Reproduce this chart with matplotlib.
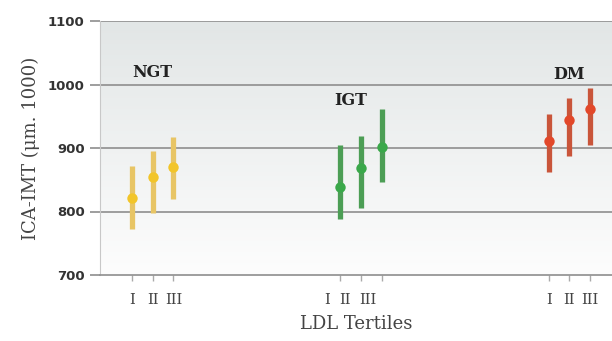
import numpy as np
import matplotlib.pyplot as plt
from matplotlib.colors import LinearSegmentedColormap

groups = ['NGT', 'IGT', 'DM']
tertiles = ['I', 'II', 'III']
means = [[821, 854, 870], [838, 869, 902], [911, 944, 961]]
lows = [[772, 798, 820], [788, 805, 847], [862, 888, 904]]
highs = [[872, 895, 918], [905, 919, 961], [953, 978, 994]]
group_label_y = [1019, 975, 1016]

bar_colors = ['#e8c565', '#4c9e55', '#c9553a']
dot_colors = ['#f2c52a', '#3aa84a', '#e2482a']

fig = plt.figure(figsize=(6.12, 3.41), dpi=100)
ax = fig.add_axes([100 / 612, 1 - 275 / 341, 1 - 100 / 612, 254 / 341])

xlim = (-0.52, 24.04)
ylim = (700, 1100)

# light gray gradient background, fading toward the bottom
grad = np.linspace(1, 0, 256).reshape(-1, 1)
cmap = LinearSegmentedColormap.from_list('bg', ['#fdfdfd', '#e2e6e6'])
ax.imshow(grad, extent=[xlim[0], xlim[1], ylim[0], ylim[1]], aspect='auto',
          cmap=cmap, origin='upper', zorder=0)

for yv in [800, 900, 1000, 1100]:
    ax.axhline(yv, color='#8e8e8e', lw=1.2, zorder=1)

tick_pos = []
label_pos = []
for g, name in enumerate(groups):
    xs = np.arange(3) + 1 + 10 * g
    tick_pos.extend(xs)
    # the IGT tertile labels sit slightly left of their points in the original
    if g == 1:
        label_pos.extend(xs + np.array([-0.63, -0.77, -0.67]))
    else:
        label_pos.extend(xs)
    m = np.array(means[g])
    lo = np.array(lows[g])
    hi = np.array(highs[g])
    ax.vlines(xs, lo, hi, color=bar_colors[g], lw=3.8, zorder=3)
    ax.plot(xs, m, 'o', color=dot_colors[g], ms=7.5, mec='none', zorder=4)
    ax.text(xs[1] + (0.0 if g != 1 else -0.5), group_label_y[g], name,
            ha='center', va='center', family='DejaVu Serif',
            fontweight='bold', fontsize=11.5, color='#222222')

ax.set_xlim(*xlim)
ax.set_ylim(*ylim)

# tick marks at every point, labels as minor ticks without marks
ax.xaxis.remove_overlapping_locs = False
ax.set_xticks(tick_pos)
ax.set_xticklabels([])
ax.tick_params(axis='x', which='major', length=4, width=1, color='#aaaaaa')
ax.set_xticks(label_pos, minor=True)
ax.set_xticklabels(tertiles * 3, minor=True, family='DejaVu Serif',
                   fontsize=10.5, color='#444444')
ax.tick_params(axis='x', which='minor', length=0, pad=13)

ax.set_yticks([700, 800, 900, 1000, 1100])
ax.set_yticklabels(['700', '800', '900', '1000', '1100'], fontweight='bold',
                   fontsize=9.5, color='#333333')
ax.tick_params(axis='y', length=7, width=1.2, color='#8e8e8e', pad=4)

for side in ['top', 'right']:
    ax.spines[side].set_visible(False)
ax.spines['left'].set_color('#c8c8c8')
ax.spines['bottom'].set_color('#8e8e8e')
ax.spines['bottom'].set_linewidth(1.2)

ax.set_ylabel('ICA-IMT (μm. 1000)', family='DejaVu Serif', fontsize=13,
              color='#444444', labelpad=6)
ax.set_xlabel('LDL Tertiles', family='DejaVu Serif', fontsize=13,
              color='#444444', labelpad=6)

fig.savefig('out.png', dpi=100)
